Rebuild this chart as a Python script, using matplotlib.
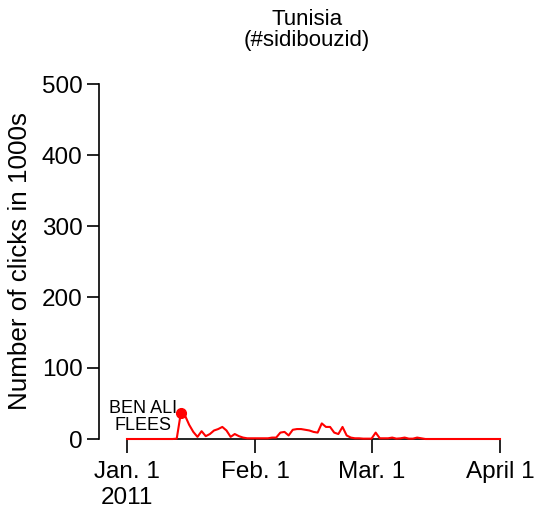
import matplotlib
matplotlib.use('Agg')
import matplotlib.pyplot as plt
import pandas as pd

plt.rcParams['font.family'] = ['Liberation Sans', 'DejaVu Sans']

# daily clicks (in 1000s), Jan 1 - April 1 2011
clicks = [0, 0, 0, 0, 0, 0, 0, 0, 0, 0,
          0, 0, 0.5, 37, 33, 20, 10, 3, 11, 4,
          7, 12, 14, 17, 12, 3, 7, 4, 2, 1,
          1, 1, 1, 1, 1, 2, 2, 9, 10, 5,
          13, 14, 14, 13, 12, 10, 9, 22, 17, 17,
          9, 7, 17, 5, 2, 1, 1, 0.5, 0.5, 0.5,
          9, 1, 1, 1, 2, 0.5, 1, 2, 0.5, 0.5,
          2, 1, 0, 0, 0, 0, 0, 0, 0, 0,
          0, 0, 0, 0, 0, 0, 0, 0, 0, 0, 0]
dates = pd.date_range('2011-01-01', '2011-04-01', freq='D')

event_date = pd.Timestamp('2011-01-14')
event_value = 37
event_label = 'BEN ALI\nFLEES'

tick_dates = pd.to_datetime(['2011-01-01', '2011-02-01', '2011-03-01', '2011-04-01'])
tick_labels = ['Jan. 1\n2011', 'Feb. 1', 'Mar. 1', 'April 1']
y_ticks = [0, 100, 200, 300, 400, 500]

W, H = 535, 516
fig = plt.figure(figsize=(W / 100, H / 100), dpi=100)
ax = fig.add_axes([127 / W, (H - 439) / H, (500 - 127) / W, (439 - 84) / H])

ax.plot(dates, clicks, color='red', lw=1.5, clip_on=False, zorder=3)
ax.plot([event_date], [event_value], 'o', color='red', ms=7, clip_on=False, zorder=4)
ax.annotate(event_label, (event_date, event_value), xytext=(-3, -3),
            textcoords='offset points', ha='right', va='center',
            multialignment='center', fontsize=13, linespacing=0.95)

ax.set_xlim(dates[0], dates[-1])
ax.set_ylim(0, 500)
ax.set_xticks(tick_dates)
ax.set_xticklabels(tick_labels)
ax.set_yticks(y_ticks)

for s in ['top', 'right']:
    ax.spines[s].set_visible(False)
ax.spines['left'].set_position(('outward', 20))
ax.spines['left'].set_linewidth(1.2)
ax.spines['bottom'].set_linewidth(1.2)

ax.tick_params(axis='x', length=10, width=1.2, pad=6, labelsize=17.5)
ax.tick_params(axis='y', length=9, width=1.2, pad=3, labelsize=17.5)
ax.set_ylabel('Number of clicks in 1000s', fontsize=18.7, labelpad=7)

fig.text(307 / W, 1 - 30 / H, 'Tunisia\n(#sidibouzid)', ha='center', va='center',
         fontsize=16, linespacing=1.05)

fig.savefig('out.png', dpi=100)
